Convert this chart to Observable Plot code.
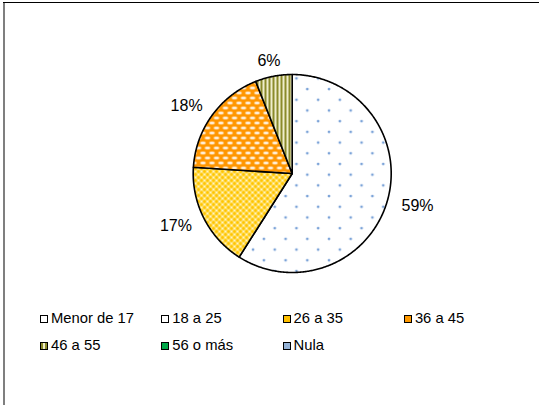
<!DOCTYPE html>
<html><head><meta charset="utf-8">
<script src="https://cdn.jsdelivr.net/npm/d3@7"></script>
<script src="https://cdn.jsdelivr.net/npm/@observablehq/plot@0.6"></script>
<style>
body{margin:0;background:#fff;}
#wrap{position:relative;width:539px;height:405px;overflow:hidden;font-family:"Liberation Sans",Arial,sans-serif;background:#fff;}
#topline{position:absolute;left:3px;top:2px;width:536px;height:1px;background:#000;}
#leftline{position:absolute;left:3px;top:3px;width:2px;height:402px;background:#7f7f7f;}
#chart{position:absolute;left:0;top:0;}
.leg{position:absolute;font-size:14.8px;line-height:16px;white-space:nowrap;color:#000;}
.sw{display:inline-block;width:6px;height:6px;border:1px solid #000;margin-right:3px;vertical-align:0px;box-sizing:content-box;}
</style></head>
<body>
<svg width="0" height="0" style="position:absolute">
<defs>
<pattern id="pDots" width="21.7" height="21.4" patternUnits="userSpaceOnUse">
<rect width="21.7" height="21.4" fill="#fff"/>
<circle cx="3" cy="3" r="1.4" fill="#7ba3d8"/>
<circle cx="13.85" cy="13.7" r="1.4" fill="#7ba3d8"/>
</pattern>
<pattern id="pYellow" width="6" height="6" patternUnits="userSpaceOnUse">
<rect width="6" height="6" fill="#FFC400"/>
<path d="M0,0 L6,6 M6,0 L0,6" stroke="#FFEB8C" stroke-width="1.2"/>
<circle cx="3" cy="3" r="1" fill="#fff8d8"/>
<circle cx="0" cy="0" r="1" fill="#fff8d8"/><circle cx="6" cy="0" r="1" fill="#fff8d8"/>
<circle cx="0" cy="6" r="1" fill="#fff8d8"/><circle cx="6" cy="6" r="1" fill="#fff8d8"/>
</pattern>
<pattern id="pOrange" width="9" height="10" patternUnits="userSpaceOnUse">
<rect width="9" height="10" fill="#FF9600"/>
<ellipse cx="4.5" cy="2.5" rx="2.8" ry="1.2" fill="#fff"/>
<ellipse cx="0" cy="7.5" rx="2.8" ry="1.2" fill="#fff"/>
<ellipse cx="9" cy="7.5" rx="2.8" ry="1.2" fill="#fff"/>
</pattern>
<pattern id="pOlive" width="4" height="4" patternUnits="userSpaceOnUse">
<rect width="4" height="4" fill="#EFEDCC"/>
<rect width="2" height="4" fill="#8A8A2A"/>
</pattern>
</defs>
</svg>
<div id="wrap">
<div id="chart"></div>
<div id="topline"></div>
<div id="leftline"></div>
<div id="legend"></div>
</div>
<script>
// ---- data ----
const categories = ["Menor de 17", "18 a 25", "26 a 35", "36 a 45", "46 a 55", "56 o más", "Nula"];
const values = [0, 59, 17, 18, 6, 0, 0];

// ---- styles ----
const sliceFills = ["#ffffff", "url(#pDots)", "url(#pYellow)", "url(#pOrange)", "url(#pOlive)", "#00B050", "#95B3D7"];
const legendBg = ["#ffffff", "#ffffff", "#FFC000", "#FF9900",
  "repeating-linear-gradient(90deg,#8A8A2A 0 2px,#EFEDCC 2px 4px)", "#00A848", "#95B3D7"];

const R = 99; // radius in px
const cx = 291.7, cy = 173;

const rows = categories.map((c, i) => ({cat: c, value: values[i], fill: sliceFills[i]}));
const arcs = d3.pie().sort(null).value(d => d.value)(rows);

const pts = [];
const labs = [];
for (const a of arcs) {
  if (a.value <= 0) continue;
  pts.push({k: a.data.cat, x: 0, y: 0, f: a.data.fill});
  const n = Math.max(2, Math.ceil((a.endAngle - a.startAngle) / 0.01));
  for (let i = 0; i <= n; i++) {
    const t = a.startAngle + (a.endAngle - a.startAngle) * i / n;
    pts.push({k: a.data.cat, x: Math.sin(t), y: Math.cos(t), f: a.data.fill});
  }
  pts.push({k: a.data.cat, x: 0, y: 0, f: a.data.fill});
  const mid = (a.startAngle + a.endAngle) / 2;
  const s = Math.sin(mid), c = Math.cos(mid);
  const txt = a.value + "%";
  const halfW = txt.length * 6.5, halfH = 8;
  labs.push({
    x: (s * (R + 12) + s * halfW) / R,
    y: (c * (R + 8) + c * halfH) / R,
    t: txt
  });
}

const chart = Plot.plot({
  width: 539, height: 300,
  margin: 0,
  x: {domain: [-1, 1], range: [cx - R, cx + R], axis: null},
  y: {domain: [-1, 1], range: [cy + R, cy - R], axis: null},
  color: {type: "identity"},
  style: {fontFamily: "'Liberation Sans', Arial, sans-serif", background: "transparent", overflow: "visible"},
  marks: [
    Plot.line(pts, {x: "x", y: "y", z: "k", fill: "f", stroke: "#000", strokeWidth: 1.6, strokeLinejoin: "round", curve: "linear"}),
    Plot.text(labs, {x: "x", y: "y", text: "t", fontSize: 16, fill: "#000"})
  ]
});
document.getElementById("chart").appendChild(chart);

// legend
const leg = document.getElementById("legend");
categories.forEach((c, i) => {
  const col = i % 4, row = Math.floor(i / 4);
  const d = document.createElement("div");
  d.className = "leg";
  d.style.left = (40 + col * 121.3) + "px";
  d.style.top = (310 + row * 27) + "px";
  const sw = document.createElement("span");
  sw.className = "sw";
  sw.style.background = legendBg[i];
  d.appendChild(sw);
  d.appendChild(document.createTextNode(c));
  leg.appendChild(d);
});
</script>
</body></html>
